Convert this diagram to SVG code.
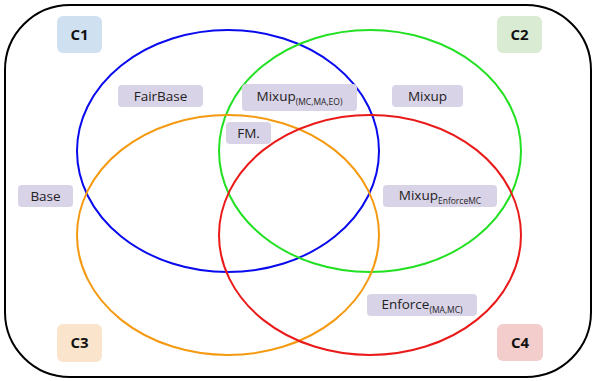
<svg xmlns="http://www.w3.org/2000/svg" width="592" height="381" viewBox="0 0 592 381">
<style>
.set{fill:none;stroke-width:2}
.lab{fill:#d9d3e8}
.t{font-family:"Open Sans","Liberation Sans",sans-serif;font-size:13.5px;fill:#222;text-anchor:middle}
.c{font-family:"Open Sans","Liberation Sans",sans-serif;font-size:15px;font-weight:bold;fill:#111;text-anchor:middle}
.s{font-size:8.5px}
</style>
<rect x="5" y="5" width="586" height="372" rx="65" ry="65" fill="#fff" stroke="#000" stroke-width="2"/>
<g id="connectors">
<ellipse id="set-blue" class="set" cx="228" cy="151" rx="151" ry="121" stroke="#0a0aee"/>
<ellipse id="set-green" class="set" cx="370" cy="151" rx="151" ry="121" stroke="#22e022"/>
<ellipse id="set-orange" class="set" cx="228" cy="235" rx="151" ry="120" stroke="#f59a10"/>
<ellipse id="set-red" class="set" cx="370" cy="235" rx="151" ry="120" stroke="#ea1a1a"/>
</g>
<g id="C1"><rect x="57" y="16" width="45" height="37" rx="6" fill="#cfe1f1"/><text class="c" x="79.5" y="40">C1</text></g>
<g id="C2"><rect x="497" y="16" width="45" height="37" rx="6" fill="#d9ebd3"/><text class="c" x="519.5" y="40">C2</text></g>
<g id="C3"><rect x="57" y="324" width="45" height="38" rx="6" fill="#fbe4cc"/><text class="c" x="79.5" y="348">C3</text></g>
<g id="C4"><rect x="497" y="324" width="46" height="37" rx="6" fill="#f3cdcc"/><text class="c" x="520" y="348">C4</text></g>
<g id="FairBase"><rect class="lab" x="118" y="85" width="85" height="22" rx="4"/><text class="t" x="160.5" y="101">FairBase</text></g>
<g id="MixupMCMAEO"><rect class="lab" x="242" y="84" width="115" height="27" rx="4"/><text class="t" x="299.5" y="101">Mixup<tspan class="s" dy="4">(MC,MA,EO)</tspan></text></g>
<g id="Mixup"><rect class="lab" x="392" y="85" width="71" height="22" rx="4"/><text class="t" x="427.5" y="101">Mixup</text></g>
<g id="FM"><rect class="lab" x="226" y="122" width="45" height="22" rx="4"/><text class="t" x="248.5" y="138">FM.</text></g>
<g id="Base"><rect class="lab" x="18" y="185" width="55" height="22" rx="4"/><text class="t" x="45.5" y="201">Base</text></g>
<g id="MixupEnforceMC"><rect class="lab" x="383" y="185" width="114" height="22" rx="4"/><text class="t" x="440" y="200">Mixup<tspan class="s" dy="4">EnforceMC</tspan></text></g>
<g id="EnforceMAMC"><rect class="lab" x="367" y="294" width="110" height="22" rx="4"/><text class="t" x="422" y="309">Enforce<tspan class="s" dy="4">(MA,MC)</tspan></text></g>
</svg>
